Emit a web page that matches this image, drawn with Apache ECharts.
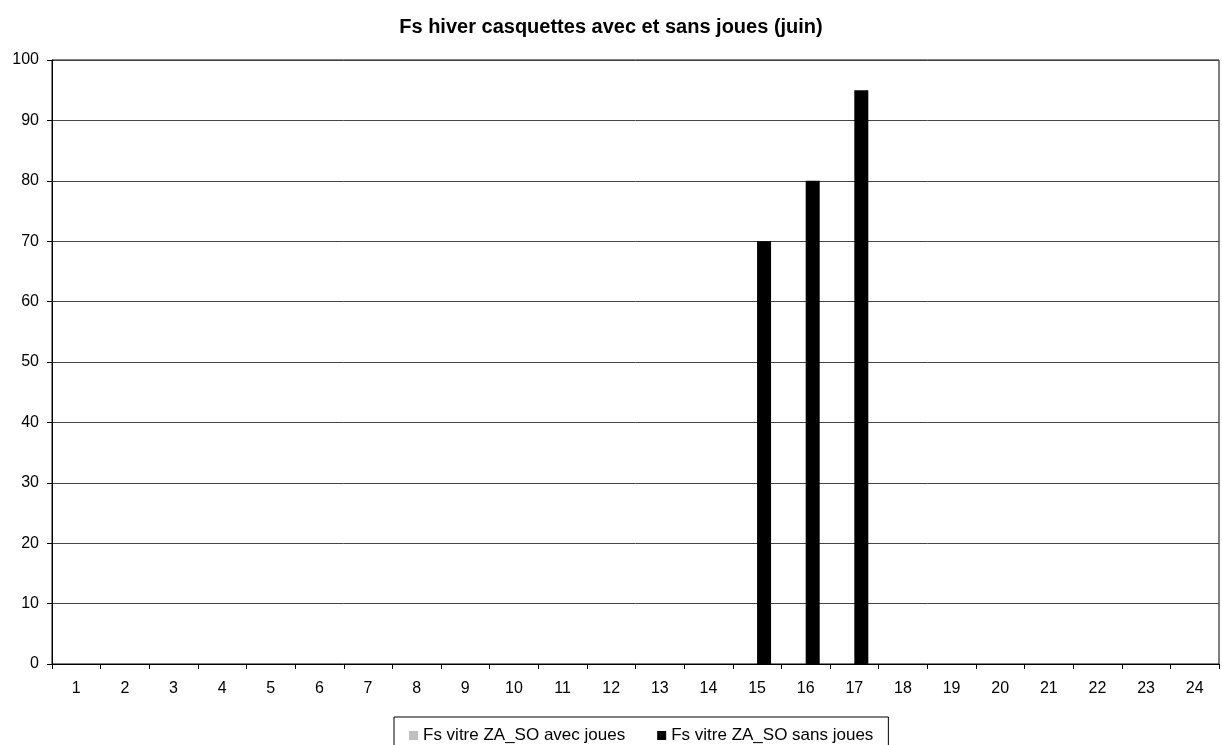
<!DOCTYPE html>
<html><head><meta charset="utf-8">
<script src="https://cdn.jsdelivr.net/npm/echarts@6/dist/echarts.min.js"></script>
<style>html,body{margin:0;padding:0;background:#fff}#c{width:1222px;height:745px}</style>
</head><body><div id="c"></div>
<script>
const categories = ['1','2','3','4','5','6','7','8','9','10','11','12','13','14','15','16','17','18','19','20','21','22','23','24'];
const avecJoues = [0,0,0,0,0,0,0,0,0,0,0,0,0,0,0,0,0,0,0,0,0,0,0,0];
const sansJoues = [0,0,0,0,0,0,0,0,0,0,0,0,0,0,70,80,95,0,0,0,0,0,0,0];
const seriesNames = ['Fs vitre ZA_SO avec joues','Fs vitre ZA_SO sans joues'];
const chart = echarts.init(document.getElementById('c'));
const font = 'Liberation Sans, Arial, sans-serif';
chart.setOption({
  animation:false,
  title:{text:'Fs hiver casquettes avec et sans joues (juin)',left:'center',top:12,
    textStyle:{fontFamily:font,fontSize:20,fontWeight:'bold',color:'#000'}},
  grid:{left:52,right:3,top:60,bottom:81,show:true,borderColor:'#000',borderWidth:1},
  legend:{top:717,left:394,borderColor:'#000',borderWidth:1,padding:[10,15,10,15],
    itemWidth:9,itemHeight:9,itemGap:32,icon:'rect',
    textStyle:{fontFamily:font,fontSize:17,color:'#000'},data:seriesNames},
  xAxis:{type:'category',data:categories,boundaryGap:true,
    axisLine:{lineStyle:{color:'#000'}},
    axisTick:{show:true,length:5,inside:false,lineStyle:{color:'#000'}},
    axisLabel:{fontFamily:font,fontSize:16,color:'#000',margin:17},
    splitLine:{show:false}},
  yAxis:{type:'value',min:0,max:100,interval:10,
    axisLine:{show:true,lineStyle:{color:'#000'}},
    axisTick:{show:true,length:5,lineStyle:{color:'#000'}},
    axisLabel:{fontFamily:font,fontSize:16,color:'#000',margin:13},
    splitLine:{show:true,lineStyle:{color:'#444',width:1}}},
  series:[
    {name:seriesNames[0],type:'bar',data:avecJoues,barWidth:14,barGap:'0%',itemStyle:{color:'#c0c0c0'}},
    {name:seriesNames[1],type:'bar',data:sansJoues,barWidth:14,barGap:'0%',itemStyle:{color:'#000'}}
  ]
});
</script></body></html>
